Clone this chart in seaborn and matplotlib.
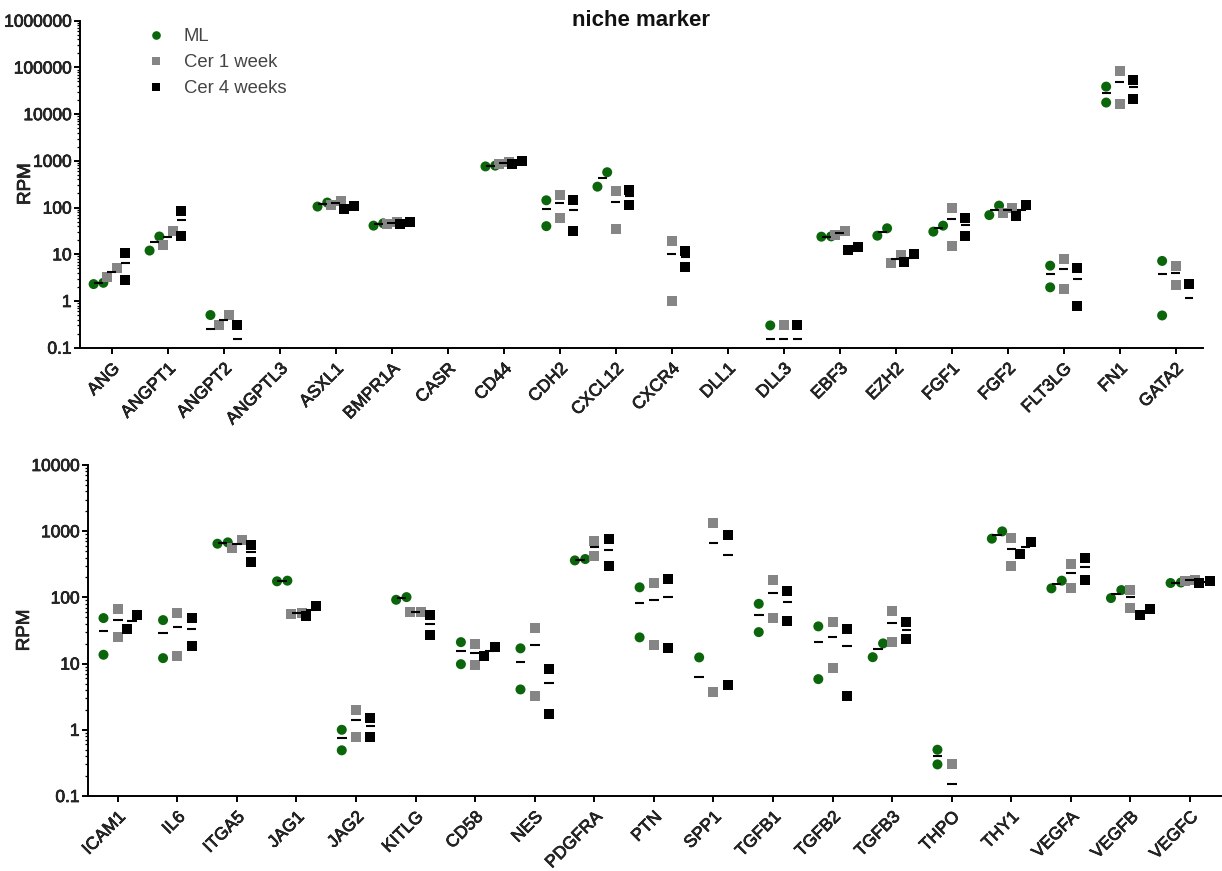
import numpy as np
import pandas as pd
import matplotlib
matplotlib.use("Agg")
import matplotlib.pyplot as plt
import matplotlib.patheffects as pe
import seaborn as sns
from matplotlib.lines import Line2D
from matplotlib.ticker import FuncFormatter, LogLocator, NullFormatter

# ---------------- data ----------------
groups = ["ML", "Cer 1 week", "Cer 4 weeks"]

top_genes = ["ANG", "ANGPT1", "ANGPT2", "ANGPTL3", "ASXL1", "BMPR1A", "CASR", "CD44",
             "CDH2", "CXCL12", "CXCR4", "DLL1", "DLL3", "EBF3", "EZH2", "FGF1", "FGF2",
             "FLT3LG", "FN1", "GATA2"]
top_ml_a = [2.3, 12, 0.5, 0, 105, 41, 0, 760, 143, 280, 0, 0, 0.3, 23.8, 25, 30.5, 69, 5.7, 38800, 7.2]
top_ml_b = [2.45, 24, 0, 0, 128, 46, 0, 790, 40, 570, 0, 0, 0, 24.2, 36, 41, 110, 1.96, 17700, 0.49]
top_c1_a = [3.3, 16, 0.3, 0, 114, 44.6, 0, 870, 186, 230, 19.3, 0, 0.3, 25.9, 6.4, 97, 78, 8.05, 82800, 5.7]
top_c1_b = [5.0, 31, 0.5, 0, 139, 50, 0, 930, 59, 34, 1.0, 0, 0, 31.5, 9.7, 15, 97, 1.78, 16300, 2.24]
top_c4_a = [10.5, 85, 0.3, 0, 92, 44, 0, 845, 148, 240, 11.9, 0, 0.3, 12.4, 6.7, 59, 66, 5.2, 54000, 2.28]
top_c4_b = [2.75, 25, 0, 0, 110, 48.7, 0, 1010, 31, 112, 5.4, 0, 0, 14.5, 10, 24.7, 114, 0.79, 20800, 0]

bot_genes = ["ICAM1", "IL6", "ITGA5", "JAG1", "JAG2", "KITLG", "CD58", "NES", "PDGFRA",
             "PTN", "SPP1", "TGFB1", "TGFB2", "TGFB3", "THPO", "THY1", "VEGFA", "VEGFB", "VEGFC"]
bot_ml_a = [48.7, 45.4, 647, 175, 1.0, 92, 21.1, 17, 362, 142, 12.4, 80, 36.5, 12.5, 0.5, 771, 137, 97.7, 165]
bot_ml_b = [13.6, 12.1, 678, 179, 0.49, 101, 9.8, 4.07, 380, 24.9, 0, 29.9, 5.83, 20.2, 0.3, 994, 179, 129, 168]
bot_c1_a = [67.4, 58, 557, 56, 2.0, 59.3, 20, 34.4, 718, 165, 1328, 185, 41.9, 62, 0.3, 780, 323, 131, 179]
bot_c1_b = [25.2, 13.1, 744, 59, 0.79, 60, 9.4, 3.27, 417, 19.3, 3.7, 48.7, 8.45, 20.9, 0, 301, 140, 69, 185]
bot_c4_a = [33.2, 48.7, 625, 52.8, 1.5, 53.5, 13.1, 8.35, 753, 189, 865, 126, 33.6, 41.9, 0, 457, 393, 53.5, 165]
bot_c4_b = [53.5, 18.2, 342, 74.8, 0.79, 26.7, 17.6, 1.76, 294, 17.1, 4.68, 44.4, 3.27, 23.5, 0, 686, 185, 67.4, 175]

# ---------------- style ----------------
sns.set_style("ticks")
plt.rcParams['font.family'] = ['Liberation Sans', 'DejaVu Sans']

colors = {"ML": "#0b650b", "Cer 1 week": "#858585", "Cer 4 weeks": "#000000"}
markers = {"ML": "o", "Cer 1 week": "s", "Cer 4 weeks": "s"}
GROUP_OFF = 0.24
SPREAD = 0.087
MEAN_HALF = 0.08
OVERLAP_PX = 14.6
MSIZE = 7.2
heavy = [pe.withStroke(linewidth=0.5, foreground='black')]

fig = plt.figure(figsize=(12.22, 8.71), dpi=100)
ax_top = fig.add_axes([80 / 1222, 1 - 347.7 / 871, 1123 / 1222, 327 / 871])
ax_bot = fig.add_axes([88 / 1222, 1 - 796 / 871, 1133 / 1222, 331 / 871])


def fmt(v, pos):
    if v < 1:
        return "%g" % v
    return str(int(round(v)))


def build(ax, genes, series, ylim, xlim):
    ax.set_yscale('log')
    ax.set_ylim(*ylim)
    ax.set_xlim(*xlim)
    rows = []
    means = []
    for gi, gene in enumerate(genes):
        for k, grp in enumerate(groups):
            a, b = series[grp][0][gi], series[grp][1][gi]
            cx = gi + (k - 1) * GROUP_OFF
            vals = sorted(v for v in (a, b) if v > 0)
            xs = [cx] * len(vals)
            if len(vals) == 2:
                y0 = ax.transData.transform((cx, vals[0]))[1]
                y1 = ax.transData.transform((cx, vals[1]))[1]
                if abs(y1 - y0) < OVERLAP_PX:
                    xs = [cx - SPREAD, cx + SPREAD]
            for x, v in zip(xs, vals):
                rows.append({"x": x, "RPM": v, "group": grp})
            m = (a + b) / 2.0
            if m > 0:
                means.append((cx, m))
    df = pd.DataFrame(rows)
    sns.scatterplot(data=df, x="x", y="RPM", hue="group", style="group",
                    hue_order=groups, style_order=groups, palette=colors,
                    markers=markers, s=MSIZE ** 2, linewidth=0, legend=False,
                    ax=ax, zorder=3)
    mdf = pd.DataFrame(means, columns=["x", "m"])
    ax.hlines(mdf["m"], mdf["x"] - MEAN_HALF, mdf["x"] + MEAN_HALF,
              colors="black", linewidth=1.5, zorder=4)
    ax.set_xticks(range(len(genes)))
    ax.set_xticklabels(genes, rotation=45, ha='right', rotation_mode='anchor',
                       fontsize=12.5)
    ax.yaxis.set_major_locator(LogLocator(base=10, numticks=20))
    ax.yaxis.set_major_formatter(FuncFormatter(fmt))
    ax.yaxis.set_minor_locator(LogLocator(base=10, subs=np.arange(2, 10), numticks=50))
    ax.yaxis.set_minor_formatter(NullFormatter())
    ax.tick_params(axis='y', which='major', length=4, width=1.4, labelsize=12.5,
                   direction='out', color='black', pad=2)
    ax.tick_params(axis='y', which='minor', length=2.2, width=0.9, color='black')
    ax.tick_params(axis='x', which='major', length=4.5, width=1.4, direction='out',
                   color='black', pad=5)
    ax.set_xlabel("")
    ax.set_ylabel("RPM", fontsize=13.5, path_effects=heavy)
    for lab in ax.get_xticklabels() + ax.get_yticklabels():
        lab.set_path_effects(heavy)
    for s in ["top", "right"]:
        ax.spines[s].set_visible(False)
    for s in ["left", "bottom"]:
        ax.spines[s].set_linewidth(1.4)
        ax.spines[s].set_color("black")


build(ax_top, top_genes,
      {"ML": (top_ml_a, top_ml_b), "Cer 1 week": (top_c1_a, top_c1_b),
       "Cer 4 weeks": (top_c4_a, top_c4_b)},
      (0.1, 1e6), (-0.57, 19.49))
build(ax_bot, bot_genes,
      {"ML": (bot_ml_a, bot_ml_b), "Cer 1 week": (bot_c1_a, bot_c1_b),
       "Cer 4 weeks": (bot_c4_a, bot_c4_b)},
      (0.1, 1e4), (-0.5, 18.52))

ax_top.yaxis.set_label_coords(-0.041, 0.5)
ax_bot.yaxis.set_label_coords(-0.0486, 0.5)

ax_top.text(0.5, 1.0, "niche marker", transform=ax_top.transAxes, ha='center',
            va='center', fontsize=16, fontweight='bold', color='#111111')

handles = [Line2D([], [], marker=markers[g], color=colors[g], linestyle='',
                  markersize=6.2, markeredgewidth=0) for g in groups]
ax_top.legend(handles, groups, loc='upper left', bbox_to_anchor=(147 / 1222, 1 - 28 / 871),
              bbox_transform=fig.transFigure, frameon=False, fontsize=13.3,
              borderaxespad=0, borderpad=0, handlelength=1.0, handletextpad=1.0,
              labelspacing=0.5, labelcolor='#444444')

fig.savefig("out.png", dpi=100)
